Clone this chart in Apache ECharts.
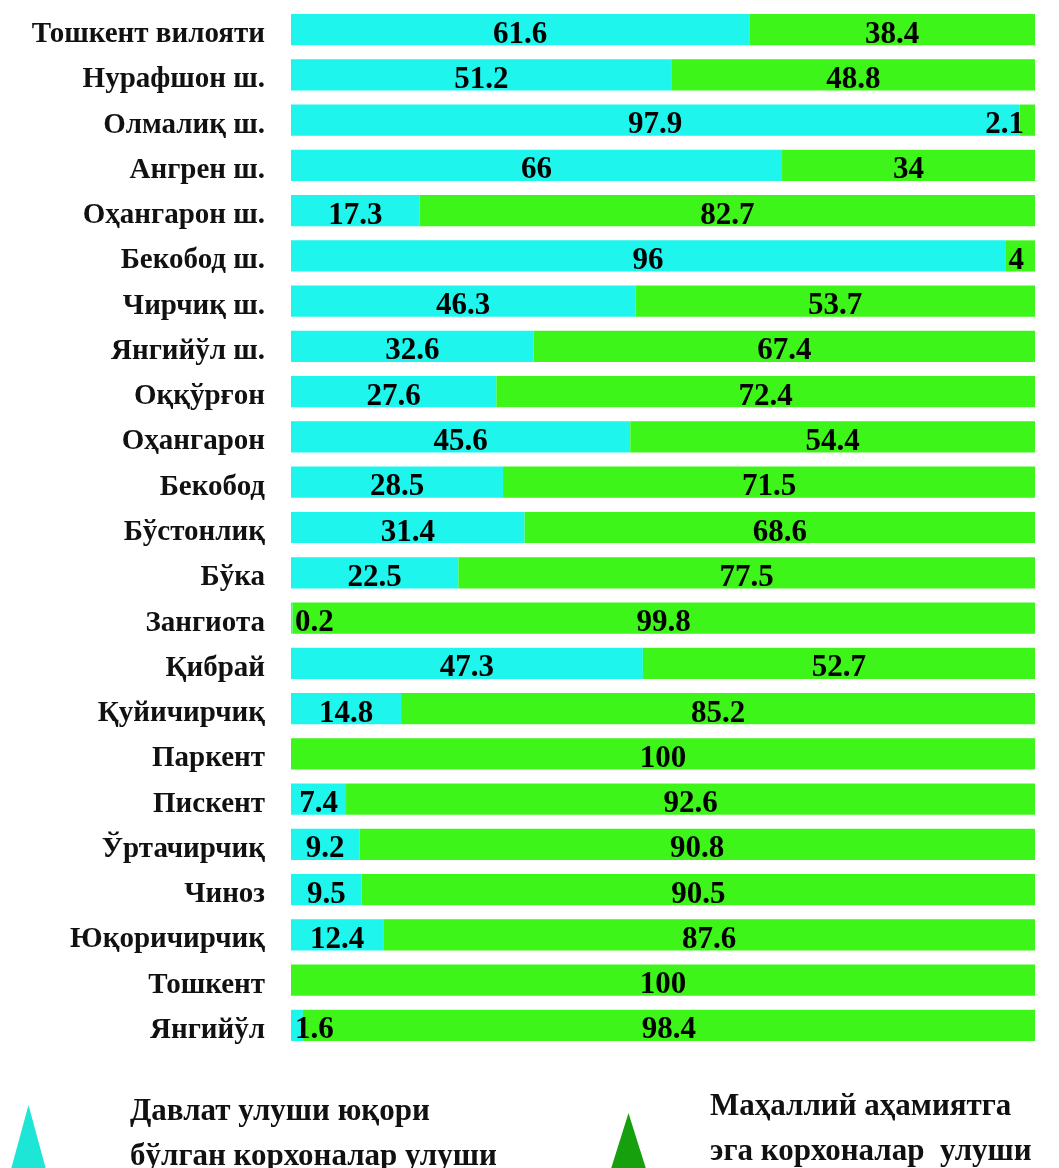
<!DOCTYPE html>
<html>
<head>
<meta charset="utf-8">
<script src="https://cdn.jsdelivr.net/npm/echarts@6/dist/echarts.min.js"></script>
<style>
    html, body { margin: 0; padding: 0; background: #fff; }
    #share-chart { width: 1059px; height: 1168px; }
</style>
</head>
<body>
<div id="share-chart"></div>
<script>
    'use strict'

    // districts, top to bottom
    var districts = ['Тошкент вилояти', 'Нурафшон ш.', 'Олмалиқ ш.', 'Ангрен ш.', 'Оҳангарон ш.', 'Бекобод ш.',
        'Чирчиқ ш.', 'Янгийўл ш.', 'Оққўрғон', 'Оҳангарон', 'Бекобод', 'Бўстонлиқ', 'Бўка', 'Зангиота',
        'Қибрай', 'Қуйичирчиқ', 'Паркент', 'Пискент', 'Ўртачирчиқ', 'Чиноз', 'Юқоричирчиқ', 'Тошкент', 'Янгийўл'];
    var stateShare = [61.6, 51.2, 97.9, 66, 17.3, 96, 46.3, 32.6, 27.6, 45.6, 28.5, 31.4, 22.5, 0.2,
        47.3, 14.8, 0, 7.4, 9.2, 9.5, 12.4, 0, 1.6];
    var localShare = [38.4, 48.8, 2.1, 34, 82.7, 4, 53.7, 67.4, 72.4, 54.4, 71.5, 68.6, 77.5, 99.8,
        52.7, 85.2, 100, 92.6, 90.8, 90.5, 87.6, 100, 98.4];
    var seriesNames = ['Давлат улуши юқори\nбўлган корхоналар улуши', 'Маҳаллий аҳамиятга\nэга корхоналар  улуши'];

    var dom = document.getElementById('share-chart');
    var shareChart = echarts.init(dom);
    var option;

    var serif = '"Liberation Serif", "Times New Roman", serif';
    var labelFont = {
        fontFamily: serif,
        fontWeight: 'bold',
        fontSize: 31,
        color: '#000'
    };

    // small slices get their label pushed to the bar edge
    function withLabels(values, side) {
        return values.map(function (v) {
            var item = { value: v };
            if (v === 0) {
                item.label = { show: false };
            } else if (v < 5 && side === 'left') {
                item.label = { position: 'insideLeft', distance: 4 };
            } else if (v < 5) {
                item.label = { position: 'insideRight', distance: 11 };
            }
            return item;
        });
    }

    // triangle sitting at the bottom of a taller icon box (leading M keeps the empty top)
    function triangleIcon(w, h, apex) {
        return 'path://M0,0 M' + (w / 2) + ',' + apex + ' L' + w + ',' + h + ' L0,' + h + ' Z';
    }

    // one legend per series, triangle icon and two-line text
    function legendFor(name, color, left, top, w, h, apex, padLeft) {
        return {
            left: left,
            top: top,
            padding: 0,
            icon: triangleIcon(w, h, apex),
            itemWidth: w,
            itemHeight: h,
            selectedMode: false,
            data: [{ name: name, itemStyle: { color: color } }],
            textStyle: {
                fontFamily: serif,
                fontWeight: 'bold',
                fontSize: 31,
                lineHeight: 45,
                color: '#111',
                padding: [0, 0, 0, padLeft]
            }
        };
    }

    option = {
        animation: false,
        grid: {
            left: 291,
            right: 24,
            top: 7,
            bottom: 120
        },
        xAxis: {
            type: 'value',
            min: 0,
            max: 100,
            show: false
        },
        yAxis: {
            type: 'category',
            inverse: true,
            data: districts,
            axisLine: { show: false },
            axisTick: { show: false },
            axisLabel: {
                margin: 26,
                // nudge names a little below the bar centre, as in the source
                verticalAlign: 'top',
                lineHeight: 10,
                fontFamily: serif,
                fontWeight: 'bold',
                fontSize: 29,
                color: '#111'
            }
        },
        legend: [
            legendFor(seriesNames[0], '#1ee6d6', 10, 1089, 37, 78, 10, 78),
            legendFor(seriesNames[1], '#16a00e', 610, 1084, 37, 86, 27, 58)
        ],
        series: [
            {
                name: seriesNames[0],
                type: 'bar',
                stack: 'share',
                barCategoryGap: '31%',
                itemStyle: { color: '#1ef5ec' },
                label: Object.assign({ show: true, position: 'inside', offset: [0, 5] }, labelFont),
                data: withLabels(stateShare, 'left')
            },
            {
                name: seriesNames[1],
                type: 'bar',
                stack: 'share',
                barCategoryGap: '31%',
                itemStyle: { color: '#3ef51a' },
                label: Object.assign({ show: true, position: 'inside', offset: [0, 5] }, labelFont),
                data: withLabels(localShare, 'right')
            }
        ]
    };

    if (option && typeof option === 'object') {
        shareChart.setOption(option);
    }
</script>
</body>
</html>
